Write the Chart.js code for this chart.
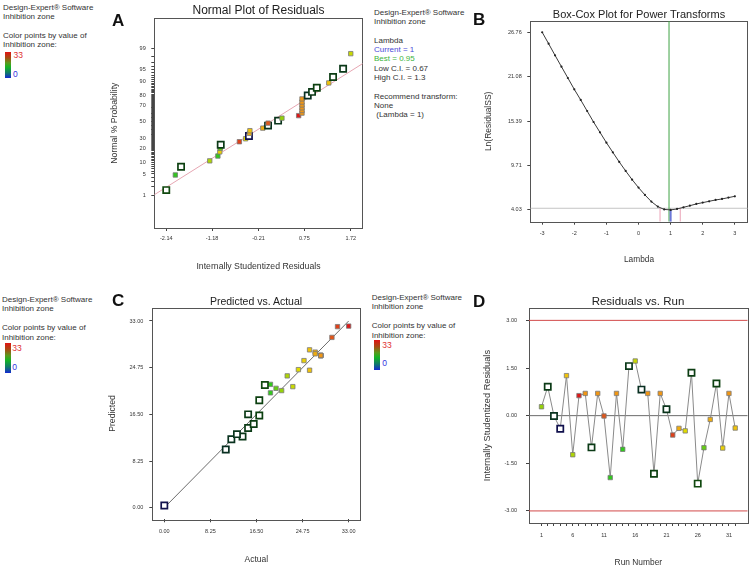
<!DOCTYPE html>
<html>
<head>
<meta charset="utf-8">
<script src="https://cdn.jsdelivr.net/npm/chart.js@4.4.1/dist/chart.umd.min.js"></script>
<style>
  body { margin: 0; background: #fff; }
  #page { position: relative; width: 753px; height: 570px; overflow: hidden; font-family: "Liberation Sans", Arial, sans-serif; color: #333; }
  canvas { position: absolute; }
  .txt { position: absolute; font-size: 8px; line-height: 9.4px; white-space: pre; color: #333; z-index: 2; }
  .ttl { position: absolute; transform: translate(-50%, -50%); white-space: nowrap; color: #222; z-index: 2; }
  .lbl { position: absolute; font-size: 17px; font-weight: bold; transform: translateY(-50%); color: #111; z-index: 2; }
  .bar { position: absolute; width: 6px; z-index: 2;
         background: linear-gradient(to bottom, #e01414 0%, #a84a12 22%, #5a9a1c 42%, #14b424 58%, #107a6a 80%, #1428d2 100%); }
  .num { position: absolute; font-size: 8.5px; transform: translateY(-50%); z-index: 2; }
</style>
</head>
<body>
<div id="page">
  <canvas id="chartA" width="270" height="285" style="left:100px;top:0px;width:270px;height:285px"></canvas>
  <canvas id="chartB" width="283" height="285" style="left:470px;top:0px;width:283px;height:285px"></canvas>
  <canvas id="chartC" width="270" height="285" style="left:100px;top:285px;width:270px;height:285px"></canvas>
  <canvas id="chartD" width="283" height="285" style="left:470px;top:285px;width:283px;height:285px"></canvas>

  <div class="txt" style="left:3px;top:2.6px">Design-Expert® Software
Inhibition zone

Color points by value of
Inhibition zone:</div>
  <div class="bar" style="left:5px;top:51.7px;height:26.6px"></div>
  <div class="num" style="left:13.5px;top:55px;color:#e03030">33</div>
  <div class="num" style="left:13px;top:74px;color:#3535e0">0</div>

  <div class="txt" style="left:374px;top:7.6px;line-height:9.35px">Design-Expert® Software
Inhibition zone

Lambda
<span style="color:#4a4ad8">Current = 1</span>
<span style="color:#3cb43c">Best = 0.95</span>
Low C.I. = 0.67
High C.I. = 1.3

Recommend transform:
None
 (Lambda = 1)</div>

  <div class="txt" style="left:2px;top:295px">Design-Expert® Software
Inhibition zone

Color points by value of
Inhibition zone:</div>
  <div class="bar" style="left:4.7px;top:343.3px;height:30px"></div>
  <div class="num" style="left:12.3px;top:347.7px;color:#e03030">33</div>
  <div class="num" style="left:12.3px;top:366.7px;color:#3535e0">0</div>

  <div class="txt" style="left:371.7px;top:293px">Design-Expert® Software
Inhibition zone

Color points by value of
Inhibition zone:</div>
  <div class="bar" style="left:374px;top:340px;height:30px"></div>
  <div class="num" style="left:382.3px;top:345px;color:#e03030">33</div>
  <div class="num" style="left:382.3px;top:363.3px;color:#3535e0">0</div>

  <div class="lbl" style="left:112px;top:21px">A</div>
  <div class="lbl" style="left:473px;top:19.5px">B</div>
  <div class="lbl" style="left:112px;top:301px">C</div>
  <div class="lbl" style="left:473px;top:301.7px">D</div>

  <div class="ttl" style="left:258.5px;top:10px;font-size:12px">Normal Plot of Residuals</div>
  <div class="ttl" style="left:639px;top:14px;font-size:11px">Box-Cox Plot for Power Transforms</div>
  <div class="ttl" style="left:256px;top:300.7px;font-size:10.5px">Predicted vs. Actual</div>
  <div class="ttl" style="left:638px;top:300.5px;font-size:11.5px">Residuals vs. Run</div>
</div>

<script>
// runs of the design
const runNumber = [1, 2, 3, 4, 5, 6, 7, 8, 9, 10, 11, 12, 13, 14, 15, 16,
                   17, 18, 19, 20, 21, 22, 23, 24, 25, 26, 27, 28, 29, 30, 31, 32];
const actualZone = [21, 15, 12, 0, 26, 22, 33, 28, 15, 28, 30, 19, 28, 19, 14, 23,
                    11, 28, 17, 28, 13, 31, 27, 24, 16, 18, 20, 27, 17, 25, 28, 26];
const predictedZone = [20.7, 14.1, 12.1, 0.4, 24.3, 23.3, 32.1, 26.9, 16.5, 26.9, 30.1, 21.8, 26.9, 20.3, 12.6, 21.4,
                       10.3, 26.9, 19.0, 26.9, 13.0, 32.0, 27.5, 24.4, 14.8, 21.7, 21.1, 27.2, 16.3, 26.0, 26.9, 27.9];
const studResidual = [0.28, 0.91, -0.01, -0.41, 1.26, -1.23, 0.63, 0.70, -1.00, 0.70, -0.01, -1.95, 0.70, -1.06, 1.56, 1.72,
                      0.82, 0.70, -1.83, 0.70, 0.20, -0.61, -0.40, -0.48, 1.35, -2.14, -1.01, -0.12, 1.01, -1.02, 0.70, -0.39];

// panel A
const probTicksA = [1, 5, 10, 20, 30, 50, 70, 80, 90, 95, 99];
const residTicksA = [-2.14, -1.18, -0.21, 0.75, 1.72];
const refSlopeA = 0.95;
const refInterceptA = -0.03;

// panel B
const lambdaB = [-3, -2.8, -2.6, -2.4, -2.2, -2, -1.8, -1.6, -1.4, -1.2, -1, -0.8, -0.6, -0.4, -0.2, 0,
                 0.2, 0.4, 0.6, 0.8, 1, 1.2, 1.4, 1.6, 1.8, 2, 2.2, 2.4, 2.6, 2.8, 3];
const lnRssB = [26.76, 25.30, 23.81, 22.36, 20.91, 19.46, 18.10, 16.69, 15.28, 13.96, 12.64, 11.40, 10.17, 9.02, 7.91, 6.89,
                5.95, 5.10, 4.46, 4.10, 4.04, 4.16, 4.37, 4.58, 4.80, 4.97, 5.14, 5.31, 5.44, 5.61, 5.78];
const lnTicksB = [4.03, 9.71, 15.39, 21.08, 26.76];
const lambdaTicksB = [-3, -2, -1, 0, 1, 2, 3];
const currentLambda = 1;
const bestLambda = 0.95;
const lowCI = 0.67;
const highCI = 1.3;
const ciLevelB = 4.25;

// panel C
const zoneTicksC = [0, 8.25, 16.5, 24.75, 33];

// panel D
const runTicksD = [1, 6, 11, 16, 21, 26, 31];
const residTicksD = [-3, -1.5, 0, 1.5, 3];
const limitD = 3;

const FONT = '"Liberation Sans", Arial, sans-serif';
const tickFont = { family: FONT, size: 5.5 };

// inverse normal cdf (Acklam)
function probit(p) {
    const a = [-39.69683028665376, 220.9460984245205, -275.9285104469687, 138.3577518672690, -30.66479806614716, 2.506628277459239];
    const b = [-54.47609879822406, 161.5858368580409, -155.6989798598866, 66.80131188771972, -13.28068155288572];
    const c = [-0.007784894002430293, -0.3223964580411365, -2.400758277161838, -2.549732539343734, 4.374664141464968, 2.938163982698783];
    const d = [0.007784695709041462, 0.3224671290700398, 2.445134137142996, 3.754408661907416];
    const pl = 0.02425;
    let q, r;
    if (p < pl) {
        q = Math.sqrt(-2 * Math.log(p));
        return (((((c[0]*q + c[1])*q + c[2])*q + c[3])*q + c[4])*q + c[5]) / ((((d[0]*q + d[1])*q + d[2])*q + d[3])*q + 1);
    }
    if (p > 1 - pl) {
        q = Math.sqrt(-2 * Math.log(1 - p));
        return -(((((c[0]*q + c[1])*q + c[2])*q + c[3])*q + c[4])*q + c[5]) / ((((d[0]*q + d[1])*q + d[2])*q + d[3])*q + 1);
    }
    q = p - 0.5;
    r = q * q;
    return (((((a[0]*r + a[1])*r + a[2])*r + a[3])*r + a[4])*r + a[5]) * q / (((((b[0]*r + b[1])*r + b[2])*r + b[3])*r + b[4])*r + 1);
}

// colour points by inhibition zone
const zoneStops = [[0, [40, 40, 190]], [10, [20, 110, 90]], [17, [30, 160, 40]], [19, [50, 200, 30]], [21, [150, 210, 10]],
                   [24, [225, 220, 0]], [26, [240, 195, 10]], [28, [240, 150, 20]], [30, [225, 85, 25]], [33, [220, 25, 25]]];
function zoneRgb(v) {
    for (let i = 1; i < zoneStops.length; i++) {
        const [v0, c0] = zoneStops[i - 1];
        const [v1, c1] = zoneStops[i];
        if (v <= v1) {
            const t = Math.max(0, (v - v0) / (v1 - v0));
            return c0.map((c, k) => Math.round(c + (c1[k] - c) * t));
        }
    }
    return zoneStops[zoneStops.length - 1][1];
}
const isOpen = v => v < 18.5;
function pointFill(v) { return isOpen(v) ? '#ffffff' : 'rgb(' + zoneRgb(v).join(',') + ')'; }
function pointEdge(v) {
    if (!isOpen(v)) return '#7a7a7a';
    return 'rgb(' + zoneRgb(v).map(c => Math.round(c * 0.4)).join(',') + ')';
}
const pointStyleOf = {
    pointStyle: 'rect',
    pointBackgroundColor: ctx => pointFill(ctx.raw.zone),
    pointBorderColor: ctx => pointEdge(ctx.raw.zone),
    pointBorderWidth: ctx => isOpen(ctx.raw.zone) ? 1.7 : 0.8,
    pointRadius: ctx => isOpen(ctx.raw.zone) ? 4.4 : 3.1
};

const framePlugin = {
    id: 'frame',
    beforeDatasetsDraw(chart) {
        const a = chart.chartArea, ctx = chart.ctx;
        ctx.save();
        ctx.strokeStyle = '#555';
        ctx.lineWidth = 1;
        ctx.strokeRect(Math.round(a.left) + 0.5, Math.round(a.top) + 0.5, Math.round(a.right - a.left), Math.round(a.bottom - a.top));
        ctx.restore();
    }
};

function scaleCfg(o) {
    return {
        type: 'linear', position: o.position, min: o.min, max: o.max,
        afterFit: s => { if (o.position === 'left') s.width = o.size; else s.height = o.size; },
        afterBuildTicks: s => { s.ticks = o.ticks.map(v => ({ value: v })); },
        grid: { drawOnChartArea: false, drawTicks: true, tickLength: 3, color: '#444' },
        border: { display: false },
        ticks: { autoSkip: false, maxRotation: 0, padding: o.pad, color: '#333', font: tickFont, callback: o.label },
        title: { display: true, text: o.title, color: '#333', font: { family: FONT, size: o.titleSize }, padding: o.titlePad }
    };
}

function baseOptions(pad, xs, ys) {
    return {
        responsive: false, animation: false, events: [],
        layout: { padding: pad },
        plugins: { legend: { display: false }, tooltip: { enabled: false }, title: { display: false } },
        scales: { x: xs, y: ys }
    };
}

function lineSet(points, color, width) {
    return { type: 'scatter', data: points, showLine: true, pointRadius: 0, borderColor: color, borderWidth: width, fill: false };
}

// ---------- A : normal plot ----------
const orderA = runNumber.map((r, i) => i).sort((i, j) => studResidual[i] - studResidual[j]);
const normalPoints = orderA.map((i, k) => ({ x: studResidual[i], y: probit((k + 0.5) / orderA.length), zone: actualZone[i] }));
const xMinA = -2.39, xMaxA = 1.97;
const minorProbA = Array.from({ length: 99 }, (_, i) => i + 1);

new Chart(document.getElementById('chartA'), {
    type: 'scatter',
    data: {
        datasets: [
            Object.assign({ data: normalPoints }, pointStyleOf),
            lineSet([{ x: xMinA, y: refSlopeA * xMinA + refInterceptA }, { x: xMaxA, y: refSlopeA * xMaxA + refInterceptA }], '#e6a6b2', 1)
        ]
    },
    options: baseOptions({ left: 0, top: 18.3, right: 7.3, bottom: 0 },
        scaleCfg({ position: 'bottom', min: xMinA, max: xMaxA, size: 57, ticks: residTicksA, pad: 4,
                   label: v => v.toFixed(2), title: 'Internally Studentized Residuals', titleSize: 8.7, titlePad: { top: 0, bottom: 13 } }),
        scaleCfg({ position: 'left', min: -3.35, max: 3.27, size: 54.3, ticks: minorProbA.map(p => probit(p / 100)), pad: 5.6,
                   label: v => { const k = probTicksA.findIndex(p => Math.abs(probit(p / 100) - v) < 1e-9); return k < 0 ? '' : String(probTicksA[k]); },
                   title: 'Normal % Probability', titleSize: 8.7, titlePad: { top: 9.8, bottom: 0 } })),
    plugins: [framePlugin]
});

// ---------- B : Box-Cox ----------
const yMinB = 2.53, yMaxB = 28.2, xMinB = -3.37, xMaxB = 3.4;
const boxCoxPoints = lambdaB.map((l, i) => ({ x: l, y: lnRssB[i] }));
const atCurrent = lnRssB[lambdaB.indexOf(currentLambda)];

new Chart(document.getElementById('chartB'), {
    type: 'scatter',
    data: {
        datasets: [
            { type: 'scatter', data: boxCoxPoints, showLine: true, borderColor: '#3a3a3a', borderWidth: 1,
              pointRadius: 1.1, pointBackgroundColor: '#222', pointBorderWidth: 0 },
            lineSet([{ x: currentLambda, y: yMinB }, { x: currentLambda, y: atCurrent }], '#6c78d8', 2),
            lineSet([{ x: lowCI, y: yMinB }, { x: lowCI, y: ciLevelB }], '#eaa2b6', 1),
            lineSet([{ x: highCI, y: yMinB }, { x: highCI, y: ciLevelB }], '#eaa2b6', 1),
            lineSet([{ x: bestLambda, y: yMinB }, { x: bestLambda, y: yMaxB }], '#3ea244', 1),
            lineSet([{ x: xMinB, y: ciLevelB }, { x: xMaxB, y: ciLevelB }], '#c4c4c4', 1)
        ]
    },
    options: baseOptions({ left: 0, top: 21, right: 5.3, bottom: 0 },
        scaleCfg({ position: 'bottom', min: xMinB, max: xMaxB, size: 63.3, ticks: lambdaTicksB, pad: 5.3,
                   label: v => String(v), title: 'Lambda', titleSize: 8.3, titlePad: { top: 0, bottom: 20.7 } }),
        scaleCfg({ position: 'left', min: yMinB, max: yMaxB, size: 60.3, ticks: lnTicksB, pad: 5.6,
                   label: v => v.toFixed(2), title: 'Ln(ResidualSS)', titleSize: 8.5, titlePad: { top: 13.2, bottom: 0 } })),
    plugins: [framePlugin]
});

// ---------- C : predicted vs actual ----------
const predPoints = runNumber.map((r, i) => ({ x: actualZone[i], y: predictedZone[i], zone: actualZone[i] }));

new Chart(document.getElementById('chartC'), {
    type: 'scatter',
    data: {
        datasets: [
            Object.assign({ data: predPoints }, pointStyleOf),
            lineSet([{ x: zoneTicksC[0], y: zoneTicksC[0] }, { x: zoneTicksC[4], y: zoneTicksC[4] }], '#5a5a5a', 0.9)
        ]
    },
    options: baseOptions({ left: 0, top: 22.7, right: 9.7, bottom: 0 },
        scaleCfg({ position: 'bottom', min: -2.15, max: 35.08, size: 50.7, ticks: zoneTicksC, pad: 6,
                   label: v => v.toFixed(2), title: 'Actual', titleSize: 8.5, titlePad: { top: 0, bottom: 4.9 } }),
        scaleCfg({ position: 'left', min: -2.05, max: 35.35, size: 52.3, ticks: zoneTicksC, pad: 6,
                   label: v => v.toFixed(2), title: 'Predicted', titleSize: 8.7, titlePad: { top: 7.6, bottom: 0 } })),
    plugins: [framePlugin]
});

// ---------- D : residuals vs run ----------
const runPoints = runNumber.map((r, i) => ({ x: r, y: studResidual[i], zone: actualZone[i] }));
const xMinD = -1, xMaxD = 34;

new Chart(document.getElementById('chartD'), {
    type: 'scatter',
    data: {
        datasets: [
            Object.assign({ data: runPoints, showLine: true, borderColor: '#8a8a8a', borderWidth: 1 }, pointStyleOf),
            lineSet([{ x: xMinD, y: 0 }, { x: xMaxD, y: 0 }], '#6a6a6a', 1),
            lineSet([{ x: xMinD, y: limitD }, { x: xMaxD, y: limitD }], '#d24a4a', 1),
            lineSet([{ x: xMinD, y: -limitD }, { x: xMaxD, y: -limitD }], '#d24a4a', 1)
        ]
    },
    options: baseOptions({ left: 0, top: 23.3, right: 5.3, bottom: 0 },
        scaleCfg({ position: 'bottom', min: xMinD, max: xMaxD, size: 47, ticks: runNumber, pad: 5.7,
                   label: v => runTicksD.includes(v) ? String(v) : '', title: 'Run Number', titleSize: 8.4, titlePad: { top: 0, bottom: 2.2 } }),
        scaleCfg({ position: 'left', min: -3.38, max: 3.38, size: 59, ticks: residTicksD, pad: 9,
                   label: v => v.toFixed(2), title: 'Internally Studentized Residuals', titleSize: 9.2, titlePad: { top: 12.2, bottom: 0 } })),
    plugins: [framePlugin]
});
</script>
</body>
</html>
